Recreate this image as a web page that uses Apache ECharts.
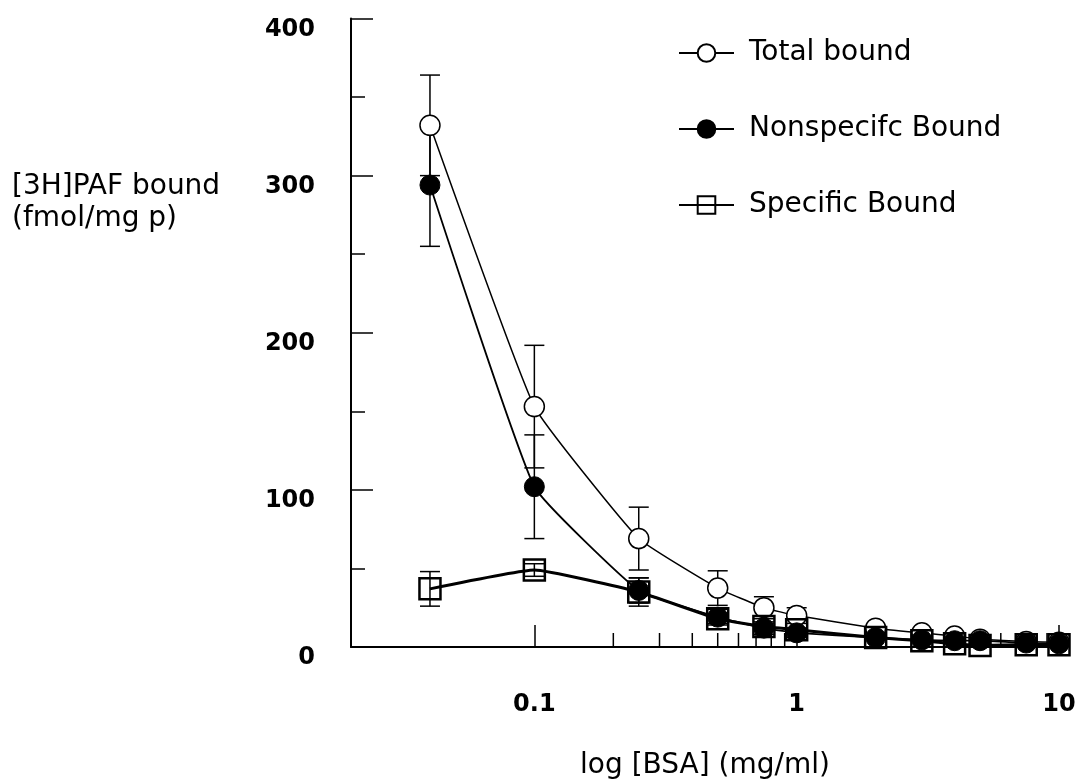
<!DOCTYPE html>
<html>
<head>
<meta charset="utf-8">
<script src="https://cdn.jsdelivr.net/npm/echarts@6/dist/echarts.min.js"></script>
<style>html,body{margin:0;padding:0;background:#fff}#c{width:1079px;height:782px}</style>
</head>
<body>
<div id="c"></div>
<script>
// ---- data ----
var bsa = [0.04, 0.1, 0.25, 0.5, 0.75, 1, 2, 3, 4, 5, 7.5, 10];
var totalBound = [332, 153, 69, 37.5, 25, 20, 12, 9, 7, 5, 3.5, 3];
var totalErr   = [32, 39, 20, 11, 7, 5, 0, 0, 0, 0, 0, 0];
var nonspecBound = [294, 102, 36, 19, 12, 9, 6, 4.5, 4, 4, 2.5, 2];
var nonspecErr   = [39, 33, 8, 5, 4, 3, 0, 0, 0, 0, 0, 0];
var specBound = [37, 49, 35, 18, 13, 11, 6, 4, 2, 1, 1.5, 1.5];
var specErr   = [11, 4, 9, 3, 2, 1, 0, 0, 0, 0, 0, 0];
var seriesNames = ['Total bound', 'Nonspecifc Bound', 'Specific Bound'];
var yTicks = [0, 100, 200, 300, 400];
var xTickLabels = { '0.1': '0.1', '1': '1', '10': '10' };
var xMinorTicks = [0.2, 0.3, 0.4, 0.5, 0.6, 0.7, 0.8, 0.9, 2, 3, 4, 5, 6, 7, 8, 9];
var xTitle = 'log [BSA] (mg/ml)';
var yTitle = ['[3H]PAF bound', '(fmol/mg p)'];

function pairs(ys) { return bsa.map(function (x, i) { return [x, ys[i]]; }); }
function errData(ys, es) {
  var out = [];
  bsa.forEach(function (x, i) { if (es[i] > 0) out.push([x, ys[i] - es[i], ys[i] + es[i]]); });
  return out;
}
function errSeries(ys, es) {
  return {
    type: 'custom', silent: true, z: 1, clip: false,
    data: errData(ys, es),
    renderItem: function (params, api) {
      var lo = api.coord([api.value(0), api.value(1)]);
      var hi = api.coord([api.value(0), api.value(2)]);
      var w = 10;
      var st = { stroke: '#000', lineWidth: 1.5 };
      return { type: 'group', children: [
        { type: 'line', shape: { x1: lo[0], y1: lo[1], x2: hi[0], y2: hi[1] }, style: st },
        { type: 'line', shape: { x1: lo[0] - w, y1: lo[1], x2: lo[0] + w, y2: lo[1] }, style: st },
        { type: 'line', shape: { x1: hi[0] - w, y1: hi[1], x2: hi[0] + w, y2: hi[1] }, style: st }
      ]};
    }
  };
}

var chart = echarts.init(document.getElementById('c'), null, { renderer: 'canvas' });
var option = {
  backgroundColor: '#fff',
  animation: false,
  grid: { left: 351, right: 20, top: 18.5, bottom: 135, containLabel: false, outerBoundsMode: 'none' },
  legend: {
    orient: 'vertical', left: 673, top: 34,
    itemWidth: 55, itemHeight: 22, itemGap: 48,
    data: seriesNames,
    textStyle: { fontFamily: 'DejaVu Sans', fontSize: 28, color: '#000', padding: [0, 0, 0, 10] }
  },
  xAxis: {
    type: 'log', logBase: 10, min: 0.02, max: 10,
    name: xTitle, nameLocation: 'middle', nameGap: 105,
    nameTextStyle: { fontFamily: 'DejaVu Sans', fontSize: 28, color: '#000' },
    axisLine: { lineStyle: { color: '#000', width: 2 } },
    axisTick: { inside: true, length: 22, lineStyle: { color: '#000', width: 1.5 } },
    splitLine: { show: false },
    axisLabel: {
      margin: 46, fontFamily: 'DejaVu Sans', fontWeight: 'bold', fontSize: 24, color: '#000',
      formatter: function (v) {
        var k = String(Math.round(v * 1000) / 1000);
        return xTickLabels[k] || '';
      }
    }
  },
  yAxis: {
    type: 'value', min: 0, max: 400, interval: 100,
    axisLine: { show: true, lineStyle: { color: '#000', width: 2 } },
    axisTick: { show: true, inside: true, length: 22, lineStyle: { color: '#000', width: 1.5 } },
    minorTick: { show: true, splitNumber: 2, length: 14, lineStyle: { color: '#000', width: 1.5 } },
    splitLine: { show: false },
    axisLabel: {
      margin: 36, fontFamily: 'DejaVu Sans', fontWeight: 'bold', fontSize: 24, color: '#000',
      verticalAlign: 'top', lineHeight: 22,
      formatter: function (v) { return yTicks.indexOf(v) >= 0 ? String(v) : ''; }
    }
  },
  graphic: [
    { type: 'text', left: 12, top: 173, style: { text: yTitle[0], font: '28px "DejaVu Sans"', fill: '#000' } },
    { type: 'text', left: 12, top: 205, style: { text: yTitle[1], font: '28px "DejaVu Sans"', fill: '#000' } }
  ],
  series: [
    {
      type: 'custom', silent: true, z: 1, clip: false,
      data: xMinorTicks,
      renderItem: function (params, api) {
        var p = api.coord([api.value(0), 0]);
        return { type: 'line', shape: { x1: p[0], y1: p[1], x2: p[0], y2: p[1] - 14 }, style: { stroke: '#000', lineWidth: 1.5 } };
      }
    },
    errSeries(totalBound, totalErr),
    errSeries(nonspecBound, nonspecErr),
    errSeries(specBound, specErr),
    {
      name: seriesNames[0], type: 'line', data: pairs(totalBound), z: 3,
      smooth: 0.12, symbol: 'circle', symbolSize: 20,
      lineStyle: { color: '#000', width: 1.5 },
      itemStyle: { color: '#fff', borderColor: '#000', borderWidth: 1.5 }
    },
    {
      name: seriesNames[1], type: 'line', data: pairs(nonspecBound), z: 4,
      smooth: 0.12, symbol: 'circle', symbolSize: 20,
      lineStyle: { color: '#000', width: 1.8 },
      itemStyle: { color: '#000', borderColor: '#000', borderWidth: 1 }
    },
    {
      name: seriesNames[2], type: 'line', data: pairs(specBound), z: 5,
      smooth: 0.12, symbol: 'rect', symbolSize: 21,
      lineStyle: { color: '#000', width: 3 },
      itemStyle: { color: 'rgba(255,255,255,0)', borderColor: '#000', borderWidth: 2.5 }
    }
  ]
};
chart.setOption(option);
</script>
</body>
</html>
